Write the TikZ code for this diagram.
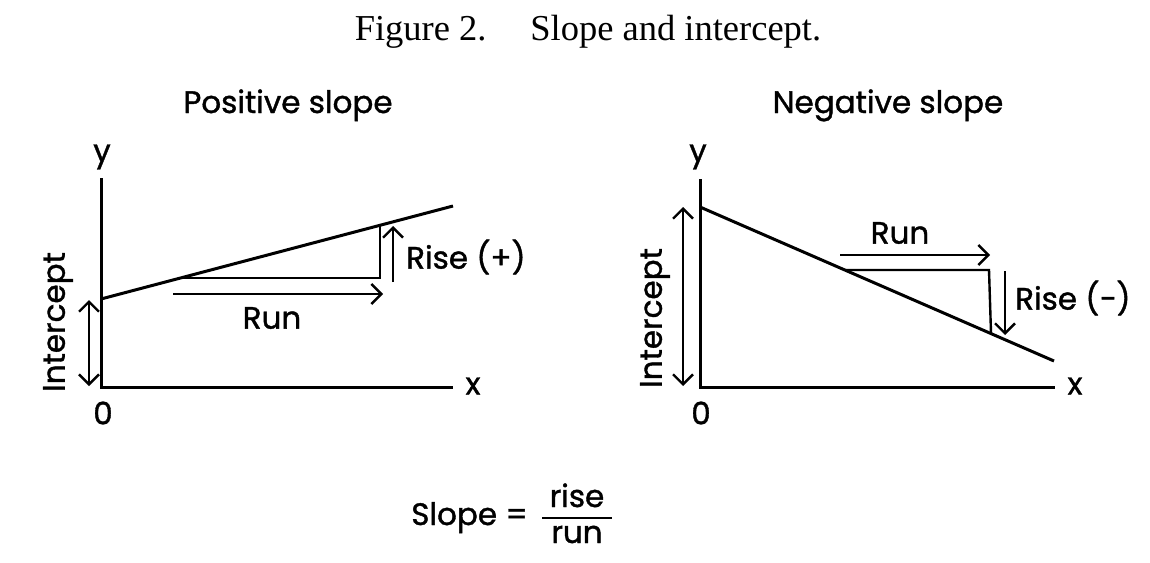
\documentclass[tikz,border=0pt]{standalone}
\usepackage{fontspec}
\setmainfont{Liberation Serif}
\newfontfamily\hand{Poppins}[UprightFeatures={FakeBold=1.2}]
\usetikzlibrary{arrows.meta}
\begin{document}
\begin{tikzpicture}[x=1pt,y=-1pt,
  mainln/.style={line width=3pt},
  subln/.style={line width=2.4pt},
  barb/.tip={Straight Barb[length=10pt,width=20pt,line width=2.4pt]},
  arr/.style={subln,-barb},
  darr/.style={subln,barb-barb},
  lab/.style={font=\hand\fontsize{31}{34}\selectfont, inner sep=0pt},
  ttl/.style={font=\fontsize{36.5}{40}\selectfont, inner sep=0pt}]
\useasboundingbox (0,0) rectangle (1150,562);
% title
\node[ttl, anchor=base] (title) at (588,40) {Figure 2.\hspace{1.2em}Slope and intercept.};
% ---------- left panel
\node[lab, anchor=base] (ptitle) at (288,113) {Positive slope};
\coordinate (O1) at (101,387);
\coordinate (Y1) at (101,178);
\coordinate (X1) at (453,387);
\coordinate (La) at (101,299);
\coordinate (Lb) at (453,206);
\coordinate (Ta) at (180,278);
\coordinate (Tc) at (380,278);
\coordinate (Tb) at (380,225);
\coordinate (Ra) at (393,282);
\coordinate (Rb) at (393,226);
\coordinate (Na) at (173,294);
\coordinate (Nb) at (383,294);
\coordinate (Ia) at (89,300);
\coordinate (Ib) at (89,386);
\draw[mainln] (Y1) -- (O1) -- (X1);
\draw[mainln] (La) -- (Lb);
\draw[subln] (Ta) -- (Tc) -- (Tb);
\draw[arr] (Ra) -- (Rb);
\draw[arr] (Na) -- (Nb);
\draw[darr] (Ia) -- (Ib);
\node[lab] (y1) at (102,157) {y};
\node[lab] (x1) at (473,386) {x};
\node[lab] (o1) at (103,413) {0};
\node[lab, anchor=west] (rise1) at (406,257) {Rise (+)};
\node[lab] (run1) at (272,318) {Run};
\node[lab, rotate=90] (int1) at (58,322) {Intercept};
% ---------- right panel
\node[lab, anchor=base] (ntitle) at (888,113) {Negative slope};
\coordinate (O2) at (700,387);
\coordinate (Y2) at (700,179);
\coordinate (X2) at (1055,387);
\coordinate (Ma) at (700,207);
\coordinate (Mb) at (1054,361);
\coordinate (Sa) at (845,270);
\coordinate (Sc) at (989,270);
\coordinate (Sb) at (991,333);
\coordinate (Qa) at (1005,271);
\coordinate (Qb) at (1005,335);
\coordinate (Pa) at (840,255);
\coordinate (Pb) at (990,255);
\coordinate (Ja) at (683,207);
\coordinate (Jb) at (683,386);
\draw[mainln] (Y2) -- (O2) -- (X2);
\draw[mainln] (Ma) -- (Mb);
\draw[subln] (Sa) -- (Sc) -- (Sb);
\draw[arr] (Qa) -- (Qb);
\draw[arr] (Pa) -- (Pb);
\draw[darr] (Ja) -- (Jb);
\node[lab] (y2) at (698,157) {y};
\node[lab] (x2) at (1075,386) {x};
\node[lab] (o2) at (701,413) {0};
\node[lab, anchor=west] (rise2) at (1015,298) {Rise (\char"2212)};
\node[lab] (run2) at (900,233) {Run};
\node[lab, rotate=90] (int2) at (655,318) {Intercept};
% ---------- formula
\node[lab, anchor=base east] (slope) at (528,525) {Slope =};
\node[lab, anchor=base] (rise) at (577,507) {rise};
\node[lab, anchor=base] (run) at (577,543) {run};
\coordinate (Fa) at (542,518);
\coordinate (Fb) at (612,518);
\draw[subln] (Fa) -- (Fb);
\end{tikzpicture}
\end{document}
